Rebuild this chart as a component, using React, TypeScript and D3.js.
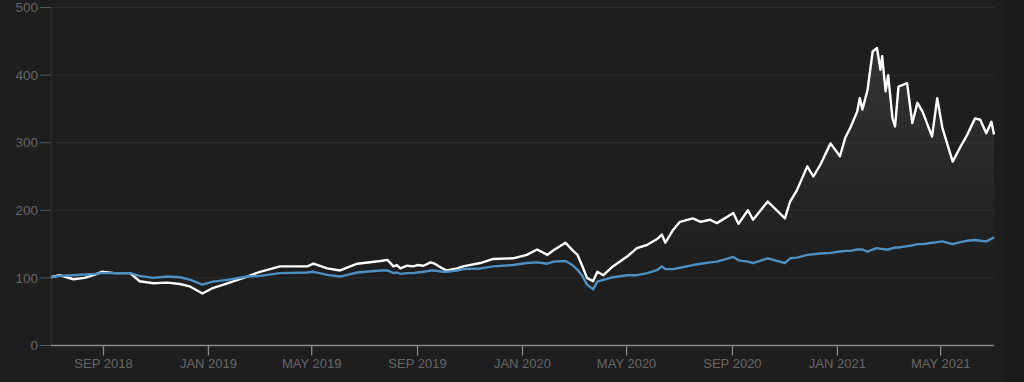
import React from "react";
import * as d3 from "d3";

const dates: string[] = [
  "2018-07-02","2018-07-12","2018-07-28","2018-08-10","2018-08-22","2018-08-30","2018-09-14","2018-10-02",
  "2018-10-13","2018-10-29","2018-11-14","2018-11-29","2018-12-11","2018-12-25","2019-01-06","2019-01-23",
  "2019-02-15","2019-03-02","2019-03-25","2019-04-26","2019-05-03","2019-05-19","2019-06-03","2019-06-23",
  "2019-07-20","2019-07-28","2019-08-04","2019-08-08","2019-08-12","2019-08-20","2019-08-27","2019-09-01",
  "2019-09-08","2019-09-16","2019-09-21","2019-09-30","2019-10-05","2019-10-17","2019-10-24","2019-11-13",
  "2019-11-28","2019-12-21","2020-01-06","2020-01-18","2020-01-30","2020-02-06","2020-02-20","2020-02-28",
  "2020-03-05","2020-03-10","2020-03-16","2020-03-23","2020-03-28","2020-04-04","2020-04-15","2020-05-02",
  "2020-05-13","2020-05-25","2020-06-06","2020-06-11","2020-06-15","2020-06-24","2020-07-02","2020-07-17",
  "2020-07-26","2020-08-06","2020-08-14","2020-09-02","2020-09-08","2020-09-19","2020-09-25","2020-10-12",
  "2020-11-01","2020-11-07","2020-11-15","2020-11-27","2020-12-04","2020-12-12","2020-12-24","2021-01-04",
  "2021-01-10","2021-01-16","2021-01-24","2021-01-27","2021-01-30","2021-02-05","2021-02-11","2021-02-16",
  "2021-02-20","2021-02-22","2021-02-26","2021-03-01","2021-03-06","2021-03-09","2021-03-13","2021-03-23",
  "2021-03-29","2021-04-04","2021-04-10","2021-04-21","2021-04-27","2021-05-03","2021-05-15","2021-05-24",
  "2021-06-01","2021-06-10","2021-06-16","2021-06-23","2021-06-29","2021-07-02"
];

const stockValues: number[] = [
  101,104,98,100,105,109,107,107,
  95,92,93,91,87,77,85,92,
  102,109,117,117,121,114,111,121,
  125,126.6,117,119,114,118,117,119,
  118,123,121,114,111,114,117,122,
  128,129,134,142,134,141,152,141,
  134,119,100,95,109,104,117,132,
  144,149,158,164,152,171,183,188,
  183,186,181,196,180,200,186,213,
  188,213,230,265,250,267,299,280,
  307,322,346,366,349,378,435,440,
  408,428,376,400,336,324,383,388,
  329,359,346,309,366,322,272,294,
  312,336,334,314,331,312
];

const indexValues: number[] = [
  101,103,104,105,106,107,107,107,
  103,100,102,101,97,90,94.5,97,
  102,103,107,108,109,104.5,102,108,
  111,111,107,108,106,107,107,108,
  109,111,111,109,109,111,113,114,
  117,119,122,123,121,124,125,119,
  112,104,90,83,94.5,97,101,104,
  104,107,112,117,113,113,115,119,
  121,123,124,131,126,124,122,129,
  122,129,130,134,135,136,137,139,
  140,140,142,142,142,139,142,144,
  143,143,142,142,144,145,145,147,
  148,150,150,152,153,154,150,153,
  155,156,155,154,158,160
];

const yTicks: number[] = [0, 100, 200, 300, 400, 500];

const W = 1024;
const H = 382;
const left = 51;
const right = 994;
const top = 7.5;
const bottom = 345.5;

export default function App() {
  const parse = d3.timeParse("%Y-%m-%d");
  const parsed = dates.map((d) => parse(d) as Date);
  const x = d3
    .scaleTime()
    .domain([parse("2018-07-02") as Date, parse("2021-07-02") as Date])
    .range([left, right]);
  const y = d3.scaleLinear().domain([0, 500]).range([bottom, top]);

  const stock = parsed.map((d, i) => ({ d, v: stockValues[i] }));
  const index = parsed.map((d, i) => ({ d, v: indexValues[i] }));

  const line = d3
    .line<{ d: Date; v: number }>()
    .x((p) => x(p.d))
    .y((p) => y(p.v))
    .curve(d3.curveLinear);
  const area = d3
    .area<{ d: Date; v: number }>()
    .x((p) => x(p.d))
    .y0(bottom)
    .y1((p) => y(p.v));

  const xTicks = x.ticks(d3.timeMonth.every(4) as d3.TimeInterval).filter(
    (t) => x(t) > left + 5 && x(t) < right - 5
  );
  const fmt = d3.timeFormat("%b %Y");
  const font = "'Liberation Sans', Arial, Helvetica, sans-serif";

  return (
    <div style={{ position: "fixed", left: 0, top: 0, width: W, height: H, background: "#1e1e1e" }}>
      <svg width={W} height={H} style={{ display: "block" }}>
        <defs>
          <linearGradient id="areaGrad" gradientUnits="userSpaceOnUse" x1="0" y1="40" x2="0" y2="265">
            <stop offset="0" stopColor="#ffffff" stopOpacity={0.1} />
            <stop offset="1" stopColor="#ffffff" stopOpacity={0} />
          </linearGradient>
          <linearGradient id="edgeGrad" x1="0" y1="0" x2="1" y2="0">
            <stop offset="0" stopColor="#1e1e1e" />
            <stop offset="0.35" stopColor="#1c1c1c" />
            <stop offset="0.4" stopColor="#1a1a1a" />
            <stop offset="1" stopColor="#191919" />
          </linearGradient>
        </defs>
        <rect x={0} y={0} width={W} height={H} fill="#1e1e1e" />
        <rect x={996} y={0} width={W - 996} height={H} fill="url(#edgeGrad)" />

        {yTicks.map((t) => (
          <g key={t}>
            {t > 0 && (
              <line x1={left} x2={right + 1} y1={y(t)} y2={y(t)} stroke="#2c2c2c" strokeWidth={1} />
            )}
            <line x1={40} x2={left} y1={y(t)} y2={y(t)} stroke="#5a5a5a" strokeWidth={1} />
            <text
              x={38}
              y={y(t)}
              dy="0.35em"
              textAnchor="end"
              fill="#666666"
              fontSize={13.5}
              fontFamily={font}
            >
              {t}
            </text>
          </g>
        ))}
        <line x1={left} x2={left} y1={top} y2={bottom} stroke="#333333" strokeWidth={1} />

        <path d={area(stock) || ""} fill="url(#areaGrad)" />
        <path d={line(stock) || ""} fill="none" stroke="#ffffff" strokeWidth={2.4} strokeLinejoin="round" />
        <path d={line(index) || ""} fill="none" stroke="#4d90c4" strokeWidth={2.4} strokeLinejoin="round" />

        <line x1={left} x2={right} y1={bottom} y2={bottom} stroke="#8a8a8a" strokeWidth={1.3} />
        {xTicks.map((t) => (
          <g key={t.getTime()}>
            <line x1={x(t)} x2={x(t)} y1={bottom} y2={bottom + 10} stroke="#8a8a8a" strokeWidth={1.3} />
            <text
              x={x(t)}
              y={367.5}
              textAnchor="middle"
              fill="#666666"
              fontSize={13}
              fontFamily={font}
            >
              {fmt(t).toUpperCase()}
            </text>
          </g>
        ))}
      </svg>
    </div>
  );
}
